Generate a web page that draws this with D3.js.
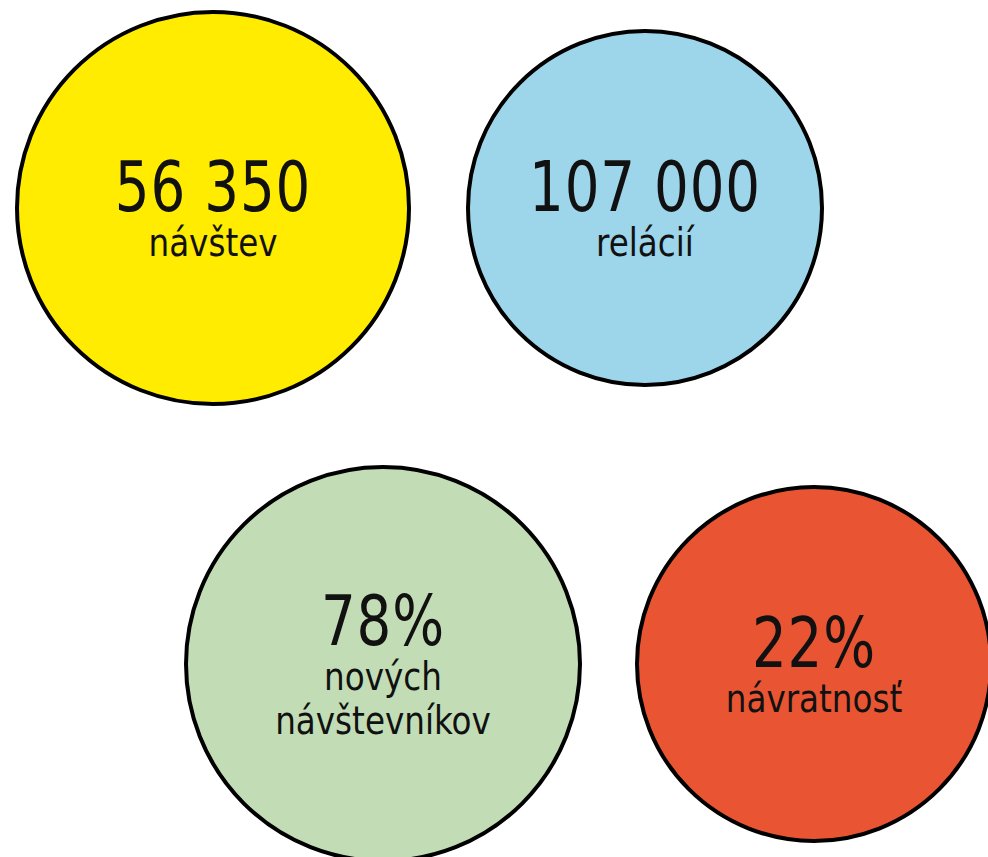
<!DOCTYPE html>
<html lang="sk">
<head>
<meta charset="UTF-8">
<title>Návštevnosť</title>
<script src="https://d3js.org/d3.v7.min.js"></script>
<style>
  body { margin: 0; background: #fff; }
  svg { display: block; }
  text { font-family: "DejaVu Sans Condensed", "DejaVu Sans", sans-serif; font-stretch: condensed; fill: #111; }
</style>
</head>
<body>
<div id="chart"></div>
<script>
// data
const values = [56350, 107000, 78, 22];
const units = ["", "", "%", "%"];
const labels = [["návštev"], ["relácií"], ["nových", "návštevníkov"], ["návratnosť"]];
const colors = ["#FFEC00", "#9DD5EA", "#C2DDB5", "#E95532"];

// layout (pixel positions of each bubble)
const cxs = [213, 645, 383, 814];
const rows = [0, 0, 1, 1];
const radii = [196, 177, 197, 177];

const width = 988, height = 857;
const y = d3.scalePoint().domain([0, 1]).range([208, 664]);
const sk = d3.formatLocale({ decimal: ",", thousands: " ", grouping: [3], currency: ["", " €"] });
const fmt = sk.format(",d");

const items = values.map((v, i) => ({
  value: v, unit: units[i], label: labels[i], color: colors[i],
  cx: cxs[i], cy: y(rows[i]), r: radii[i]
}));

const svg = d3.select("#chart").append("svg")
  .attr("width", width)
  .attr("height", height);

const g = svg.selectAll("g.bubble")
  .data(items)
  .enter().append("g")
  .attr("class", "bubble")
  .attr("transform", d => `translate(${d.cx},${d.cy})`);

g.append("circle")
  .attr("r", d => d.r)
  .attr("fill", d => d.color)
  .attr("stroke", "#000")
  .attr("stroke-width", 4);

// squeeze the text a bit, the original face is narrower
g.append("g").attr("transform", "scale(0.88,1)")
  .append("text")
  .attr("text-anchor", "middle")
  .attr("y", d => 3 - (d.label.length - 1) * 22.5)
  .style("font-size", "69px")
  .style("letter-spacing", "1px")
  .text(d => fmt(d.value) + d.unit);

g.append("g").attr("transform", "scale(0.93,1)")
  .each(function (d) {
    const base = 3 - (d.label.length - 1) * 22.5;
    d3.select(this).selectAll("text.lbl")
      .data(d.label)
      .enter().append("text")
      .attr("class", "lbl")
      .attr("text-anchor", "middle")
      .attr("y", (t, j) => base + 45 * (j + 1))
      .style("font-size", "39px")
      .text(t => t);
  });
</script>
</body>
</html>
